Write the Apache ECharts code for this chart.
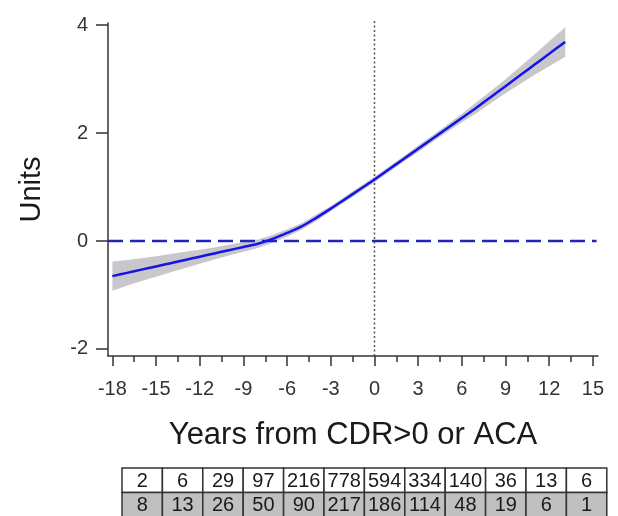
<!DOCTYPE html>
<html>
<head>
<meta charset="utf-8">
<script src="https://cdn.jsdelivr.net/npm/echarts@6/dist/echarts.min.js"></script>
<style>
  html, body { margin: 0; padding: 0; background: #fff; }
  #chart { width: 618px; height: 516px; }
</style>
</head>
<body>
<div id="chart"></div>
<script>
// Years relative to CDR>0 / ACA onset
const years = [-18, -17, -16, -15, -14, -13, -12, -11, -10, -9, -8, -7, -6, -5, -4, -3, -2, -1,
  0, 1, 2, 3, 4, 5, 6, 7, 8, 9, 10, 11, 12, 13, 13.1];
// Fitted trajectory (units)
const fitted = [-0.65, -0.59, -0.53, -0.47, -0.41, -0.35, -0.29, -0.23, -0.17, -0.11, -0.05, 0.04,
  0.15, 0.27, 0.43, 0.60, 0.78, 0.96, 1.14, 1.33, 1.52, 1.71, 1.90, 2.09, 2.28, 2.47, 2.67, 2.87,
  3.07, 3.27, 3.47, 3.67, 3.69];
// Confidence band
const ciLower = [-0.92, -0.83, -0.74, -0.66, -0.58, -0.50, -0.42, -0.34, -0.27, -0.20, -0.13, -0.03,
  0.08, 0.21, 0.37, 0.55, 0.73, 0.91, 1.09, 1.28, 1.47, 1.65, 1.84, 2.02, 2.20, 2.37, 2.56, 2.74,
  2.91, 3.08, 3.24, 3.40, 3.41];
const ciUpper = [-0.38, -0.35, -0.32, -0.28, -0.24, -0.20, -0.16, -0.12, -0.07, -0.02, 0.03, 0.11,
  0.22, 0.33, 0.49, 0.65, 0.83, 1.01, 1.19, 1.38, 1.57, 1.77, 1.96, 2.16, 2.36, 2.57, 2.78, 3.00,
  3.23, 3.46, 3.70, 3.94, 3.97];

// Axis ticks and labels
const xMajorTicks = [-18, -15, -12, -9, -6, -3, 0, 3, 6, 9, 12, 15];
const xMinorTicks = [-16.5, -13.5, -10.5, -7.5, -4.5, -1.5, 1.5, 4.5, 7.5, 10.5, 13.5];
const yTicks = [-2, 0, 2, 4];

// Numbers at risk by interval
const countsTop = [2, 6, 29, 97, 216, 778, 594, 334, 140, 36, 13, 6];
const countsBottom = [8, 13, 26, 50, 90, 217, 186, 114, 48, 19, 6, 1];

const FONT = "'Liberation Sans', Arial, sans-serif";
const X_MIN = -18.3, X_MAX = 15.35, Y_MIN = -2.13, Y_MAX = 4.04;

const fitData = years.map((x, i) => [x, fitted[i]]);

// Table of counts drawn as graphic cells
const tableLeft = 122, tableTop = 468, cellW = 40.4, cellH = 24.5;
const tableCells = [];
[countsTop, countsBottom].forEach((row, r) => {
  row.forEach((v, c) => {
    tableCells.push({
      type: 'rect',
      shape: { x: tableLeft + c * cellW, y: tableTop + r * cellH, width: cellW, height: cellH },
      style: { fill: r === 0 ? '#ffffff' : '#c0c0c0', stroke: '#333', lineWidth: 1.5 },
      z: 10
    });
    tableCells.push({
      type: 'text',
      x: tableLeft + (c + 0.5) * cellW,
      y: tableTop + (r + 0.5) * cellH + 1,
      style: { text: String(v), font: '20px ' + FONT, fill: '#1a1a1a', align: 'center', verticalAlign: 'middle' },
      z: 11
    });
  });
});

const chart = echarts.init(document.getElementById('chart'), null, { renderer: 'canvas' });
chart.setOption({
  animation: false,
  backgroundColor: '#ffffff',
  grid: { left: 108, right: 20, top: 23, bottom: 160, containLabel: false },
  xAxis: [{
    type: 'value', min: X_MIN, max: X_MAX, position: 'bottom',
    name: 'Years from CDR>0 or ACA', nameLocation: 'middle', nameGap: 64,
    nameTextStyle: { fontFamily: FONT, fontSize: 31, color: '#1a1a1a' },
    axisLine: { show: true, onZero: false, lineStyle: { color: '#333', width: 1.5 } },
    axisTick: { show: true, length: 6, customValues: xMinorTicks, lineStyle: { color: '#333', width: 1.5 } },
    axisLabel: { show: true, customValues: xMajorTicks, margin: 23, fontFamily: FONT, fontSize: 20, color: '#333' },
    splitLine: { show: false }
  }, {
    type: 'value', min: X_MIN, max: X_MAX, position: 'bottom',
    axisLine: { show: false, onZero: false },
    axisTick: { show: true, length: 10, customValues: xMajorTicks, lineStyle: { color: '#333', width: 1.5 } },
    axisLabel: { show: false },
    splitLine: { show: false }
  }],
  yAxis: {
    type: 'value', min: Y_MIN, max: Y_MAX,
    name: 'Units', nameLocation: 'middle', nameGap: 62, nameRotate: 90,
    nameTextStyle: { fontFamily: FONT, fontSize: 29, color: '#1a1a1a' },
    axisLine: { show: true, onZero: false, lineStyle: { color: '#333', width: 1.5 } },
    axisTick: { show: true, length: 12, customValues: yTicks, lineStyle: { color: '#333', width: 1.5 } },
    axisLabel: { show: true, customValues: yTicks, margin: 20, fontFamily: FONT, fontSize: 20, color: '#333' },
    splitLine: { show: false }
  },
  series: [
    {
      // confidence band
      type: 'custom',
      coordinateSystem: 'cartesian2d',
      data: [[0, 0]],
      silent: true,
      z: 1,
      renderItem: (params, api) => {
        const pts = [];
        years.forEach((x, i) => pts.push(api.coord([x, ciUpper[i]])));
        for (let i = years.length - 1; i >= 0; i--) pts.push(api.coord([years[i], ciLower[i]]));
        return { type: 'polygon', shape: { points: pts }, style: { fill: '#c8c8cc', stroke: 'none' } };
      }
    },
    {
      // reference line at zero
      type: 'line',
      data: [[X_MIN, 0], [15.25, 0]],
      symbol: 'none',
      lineStyle: { color: '#2424b8', width: 2.5, type: [15, 7] },
      z: 2
    },
    {
      // onset marker
      type: 'line',
      data: [[0, Y_MIN], [0, 4.1]],
      symbol: 'none',
      clip: false,
      lineStyle: { color: '#555', width: 1.5, type: [2, 2.5] },
      z: 2
    },
    {
      type: 'line',
      data: fitData,
      symbol: 'none',
      smooth: 0.3,
      lineStyle: { color: '#1414e6', width: 2.5 },
      z: 3
    }
  ],
  graphic: tableCells
});
</script>
</body>
</html>
